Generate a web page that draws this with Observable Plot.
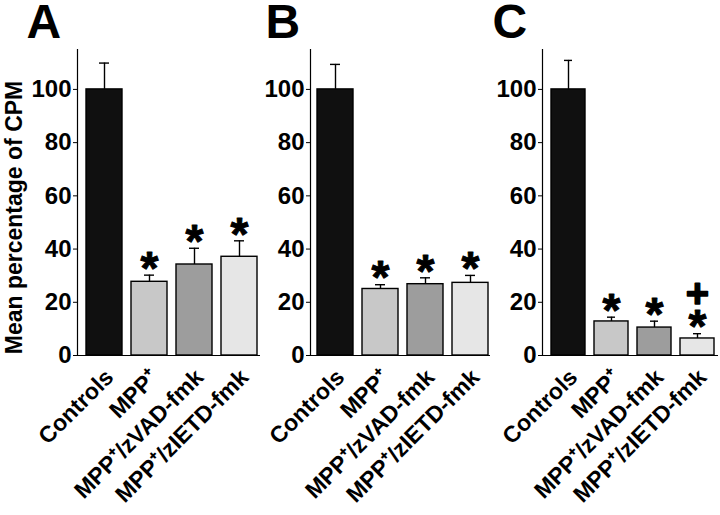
<!DOCTYPE html>
<html><head><meta charset="utf-8">
<script src="https://cdn.jsdelivr.net/npm/d3@7"></script>
<script src="https://cdn.jsdelivr.net/npm/@observablehq/plot@0.6"></script>
<style>
body{margin:0;background:#fff;}
#chart{position:relative;width:720px;height:515px;overflow:hidden;}
#chart > div{position:absolute;top:0;}
</style></head><body><div id="chart"></div>
<script>
// ---- data ----
const categories = ["Controls", "MPP⁺", "MPP⁺/zVAD-fmk", "MPP⁺/zIETD-fmk"];
const panelLetters = ["A", "B", "C"];
const meanA = [100, 27.7, 34.2, 37.1];
const semA  = [9.9, 2.5, 6.1, 6.0];
const meanB = [100, 25.0, 26.8, 27.3];
const semB  = [9.4, 1.6, 2.4, 2.8];
const meanC = [100, 12.8, 10.5, 6.4];
const semC  = [10.9, 1.6, 2.4, 1.8];
const starA = ["", "*", "*", "*"];
const starB = ["", "*", "*", "*"];
const starC = ["", "*", "*", "*"];
const plusA = ["", "", "", ""];
const plusB = ["", "", "", ""];
const plusC = ["", "", "", "+"];
const yTicks = [0, 20, 40, 60, 80, 100];
const yTitle = "Mean percentage of CPM";

// ---- styling / layout (not data) ----
const fills = ["#101010", "#c8c8c8", "#9d9d9d", "#e6e6e6"];
const FONT = "'Liberation Sans', Arial, Helvetica, sans-serif";
const layout = [
  {left: 0,   width: 262, marginLeft: 77, marginRight: 2, range: [85, 258], letterDx: -51},
  {left: 262, width: 229, marginLeft: 48, marginRight: 1, range: [55, 226], letterDx: -45},
  {left: 491, width: 229, marginLeft: 51, marginRight: 2, range: [58, 225], letterDx: -50}
];
const panels = [
  {mean: meanA, sem: semA, star: starA, plus: plusA},
  {mean: meanB, sem: semB, star: starB, plus: plusB},
  {mean: meanC, sem: semC, star: starC, plus: plusC}
];

const chart = document.getElementById("chart");

panels.forEach((p, i) => {
  const L = layout[i];
  const rows = categories.map((c, j) => ({
    cat: c, mean: p.mean[j], top: p.mean[j] + p.sem[j], star: p.star[j], plus: p.plus[j]
  }));
  const marks = [
    Plot.barY(rows, {x: "cat", y: "mean", fill: "cat", stroke: "#000", strokeWidth: 1.4}),
    Plot.ruleX(rows, {x: "cat", y1: "mean", y2: "top", stroke: "#000", strokeWidth: 1.4}),
    Plot.tickY(rows, {x: "cat", y: "top", stroke: "#000", strokeWidth: 1.4, insetLeft: 13, insetRight: 13}),
    Plot.text(rows.filter(d => d.star), {x: "cat", y: "top", text: "star", fontSize: 46, fontWeight: "bold", dy: -6, fill: "#000", stroke: "#000", strokeWidth: 1}),
    Plot.text(rows.filter(d => d.plus), {x: "cat", y: "top", text: "plus", fontSize: 40, fontWeight: "bold", dy: -39, fill: "#000", stroke: "#000", strokeWidth: 1.5}),
    Plot.ruleY([0], {stroke: "#000", strokeWidth: 1.2}),
    Plot.frame({anchor: "left", stroke: "#000", strokeWidth: 1.2}),
    Plot.axisY({ticks: yTicks, tickSize: 4, tickPadding: 2, fontSize: 24, fontWeight: "bold", label: null, tickFormat: d => d}),
    Plot.axisX({tickRotate: -45, tickSize: 0, tickPadding: 18, dx: 5, fontSize: 23, fontWeight: "bold", label: null}),
    Plot.text([panelLetters[i]], {frameAnchor: "top-left", text: d => d, fontSize: 48, fontWeight: "bold", dx: L.letterDx, dy: -46, lineAnchor: "top", textAnchor: "start"})
  ];
  if (i === 0) {
    marks.push(Plot.text([yTitle], {frameAnchor: "left", text: d => d, rotate: -90, textAnchor: "middle", fontSize: 23, fontWeight: "bold", dx: -63, dy: 15}));
  }
  const svg = Plot.plot({
    width: L.width,
    height: 515,
    marginLeft: L.marginLeft,
    marginRight: L.marginRight,
    marginTop: 49,
    marginBottom: 160,
    style: {fontFamily: FONT, background: "transparent", color: "#000", overflow: "visible"},
    x: {domain: categories, range: L.range, paddingInner: 0.2, paddingOuter: 0, axis: null},
    y: {domain: [0, 115], axis: null},
    color: {domain: categories, range: fills},
    marks
  });
  const wrap = document.createElement("div");
  wrap.style.left = L.left + "px";
  wrap.appendChild(svg);
  chart.appendChild(wrap);
});
</script></body></html>
